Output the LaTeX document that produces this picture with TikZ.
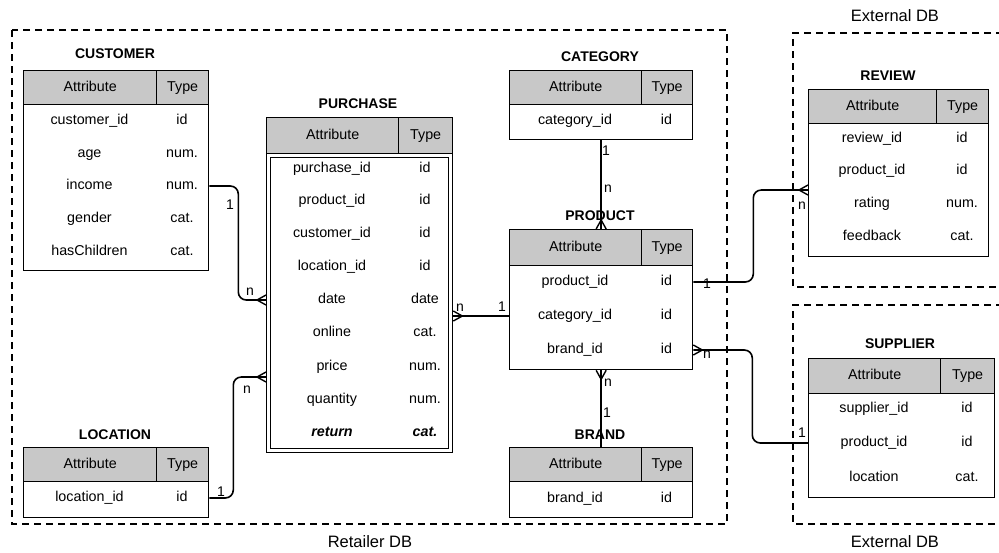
\documentclass[tikz,border=0pt]{standalone}
\usepackage{fontspec}
\setmainfont{Liberation Sans}
\definecolor{hdrgray}{RGB}{200,200,200}
\newcommand\erhead[6]{%
  \node[hdr, minimum width={(#3-#2)*1pt}, minimum height={(#6-#5)*1pt}] (#1-ha) at (#2,#5) {Attribute};
  \node[hdr, minimum width={(#4-#3)*1pt}, minimum height={(#6-#5)*1pt}] (#1-ht) at (#3,#5) {Type};}
\newcommand\erbody[5]{%
  \node[tbl, minimum width={(#3-#2)*1pt}, minimum height={(#5-#4)*1pt}] (#1) at (#2,#4) {};}
\newcommand\errow[7]{%
  \node[cell] (#1-r#2) at (#3,#5) {#6};
  \node[cell] (#1-t#2) at (#4,#5) {#7};}
\tikzset{
  tbl/.style={draw, line width=1.3pt, inner sep=0pt, anchor=north west},
  hdr/.style={tbl, fill=hdrgray, font=\fontsize{14.3}{16}\selectfont, text height=10.3pt, text depth=3pt},
  cell/.style={font=\fontsize{14.3}{16}\selectfont, inner sep=0pt, text height=10.3pt, text depth=3pt},
  ttl/.style={font=\fontsize{14}{16}\selectfont\bfseries, inner sep=0pt, text height=10pt, text depth=0pt},
  lbl/.style={font=\fontsize{14}{16}\selectfont, inner sep=0pt, text height=10pt, text depth=0pt},
  conn/.style={line width=1.6pt},
  crowl/.style={line width=1.4pt},
  region/.style={line width=2.4pt, dash pattern=on 7pt off 5pt},
  dblabel/.style={font=\fontsize{16.5}{18}\selectfont, inner sep=0pt, text height=12pt, text depth=0pt},
}
\begin{document}
\begin{tikzpicture}[x=1pt,y=-1pt]
\useasboundingbox (0,0) rectangle (999,552);

% ---- regions
\draw[region] (12,30) rectangle (727,524);
\draw[region] (1003,33) -- (793,33) -- (793,287) -- (1003,287);
\draw[region] (1003,305) -- (793,305) -- (793,524) -- (1003,524);
\node[dblabel] (retdb) at (370,541) {Retailer DB};
\node[dblabel] (extdb1) at (895,15) {External DB};
\node[dblabel] (extdb2) at (895,541) {External DB};

% ---- CUSTOMER
\node[ttl] (cust-title) at (115,53) {CUSTOMER};
\erhead{cust}{23}{156}{208}{70}{104}
\erbody{cust}{23}{208}{104}{270}
\errow{cust}{1}{89.5}{182}{121}{customer\_id}{id}
\errow{cust}{2}{89.5}{182}{154}{age}{num.}
\errow{cust}{3}{89.5}{182}{186}{income}{num.}
\errow{cust}{4}{89.5}{182}{219}{gender}{cat.}
\errow{cust}{5}{89.5}{182}{252}{hasChildren}{cat.}

% ---- LOCATION
\node[ttl] (loc-title) at (115,434) {LOCATION};
\erhead{loc}{23}{156}{208}{447}{481}
\erbody{loc}{23}{208}{481}{517}
\errow{loc}{1}{89.5}{182}{498}{location\_id}{id}

% ---- PURCHASE
\node[ttl] (purch-title) at (358,103) {PURCHASE};
\erhead{purch}{266}{398}{452}{117}{153}
\erbody{purch}{266}{452}{153}{452}
\node[tbl, minimum width=178pt, minimum height=291pt] (purch-in) at (270,157) {};
\errow{purch}{1}{332}{425}{169}{purchase\_id}{id}
\errow{purch}{2}{332}{425}{201}{product\_id}{id}
\errow{purch}{3}{332}{425}{234}{customer\_id}{id}
\errow{purch}{4}{332}{425}{267}{location\_id}{id}
\errow{purch}{5}{332}{425}{300}{date}{date}
\errow{purch}{6}{332}{425}{333}{online}{cat.}
\errow{purch}{7}{332}{425}{367}{price}{num.}
\errow{purch}{8}{332}{425}{400}{quantity}{num.}
\errow{purch}{9}{332}{425}{433}{\textbf{\textit{return}}}{\textbf{\textit{cat.}}}

% ---- CATEGORY
\node[ttl] (cat-title) at (600,56) {CATEGORY};
\erhead{cat}{509}{641}{692}{70}{104}
\erbody{cat}{509}{692}{104}{139}
\errow{cat}{1}{575}{666.5}{121}{category\_id}{id}

% ---- PRODUCT
\node[ttl] (prod-title) at (600,215) {PRODUCT};
\erhead{prod}{509}{641}{692}{229}{265}
\erbody{prod}{509}{692}{265}{369}
\errow{prod}{1}{575}{666.5}{282}{product\_id}{id}
\errow{prod}{2}{575}{666.5}{316}{category\_id}{id}
\errow{prod}{3}{575}{666.5}{350}{brand\_id}{id}

% ---- BRAND
\node[ttl] (brand-title) at (600,434) {BRAND};
\erhead{brand}{509}{641}{692}{447}{481}
\erbody{brand}{509}{692}{481}{517}
\errow{brand}{1}{575}{666.5}{499}{brand\_id}{id}

% ---- REVIEW
\node[ttl] (rev-title) at (888,75) {REVIEW};
\erhead{rev}{808}{936}{988}{89}{123}
\erbody{rev}{808}{988}{123}{256}
\errow{rev}{1}{872}{962}{139}{review\_id}{id}
\errow{rev}{2}{872}{962}{171}{product\_id}{id}
\errow{rev}{3}{872}{962}{204}{rating}{num.}
\errow{rev}{4}{872}{962}{237}{feedback}{cat.}

% ---- SUPPLIER
\node[ttl] (sup-title) at (900,343) {SUPPLIER};
\erhead{sup}{808}{940}{994}{358}{393}
\erbody{sup}{808}{994}{393}{497}
\errow{sup}{1}{874}{967}{409}{supplier\_id}{id}
\errow{sup}{2}{874}{967}{443}{product\_id}{id}
\errow{sup}{3}{874}{967}{478}{location}{cat.}

% ---- connectors
% customer - purchase
\draw[conn, rounded corners=8pt] (cust.east |- cust-r3) -- ++(29,0) |- (purch.west |- purch-r5);
\draw[crowl] (purch.west |- purch-r5) ++(0,-5) -- ++(-9,5) -- ++(9,5);
\node[lbl] (c1a) at (230,204) {1};
\node[lbl] (c1b) at (250,290) {n};

% location - purchase
\coordinate (plin) at (purch.west |- 0,377);
\draw[conn, rounded corners=8pt] (loc.east |- loc-r1) -- ++(24,0) |- (plin);
\draw[crowl] (plin) ++(0,-5) -- ++(-9,5) -- ++(9,5);
\node[lbl] (c2a) at (221,491) {1};
\node[lbl] (c2b) at (247,388) {n};

% purchase - product
\draw[conn] (purch.east |- prod-r2) -- (prod.west |- prod-r2);
\draw[crowl] (purch.east |- prod-r2) ++(0,-5) -- ++(9,5) -- ++(-9,5);
\node[lbl] (c3a) at (460,306) {n};
\node[lbl] (c3b) at (502,306) {1};

% category - product
\draw[conn] (cat.south) -- (cat.south |- prod-ha.north);
\draw[crowl] (cat.south |- prod-ha.north) ++(-5,0) -- ++(5,-9) -- ++(5,9);
\node[lbl] (c4a) at (606,150) {1};
\node[lbl] (c4b) at (608,187) {n};

% brand - product
\draw[conn] (prod.south) -- (prod.south |- brand-ha.north);
\draw[crowl] (prod.south) ++(-5,0) -- ++(5,9) -- ++(5,-9);
\node[lbl] (c5a) at (608,381) {n};
\node[lbl] (c5b) at (607,412) {1};

% product - review
\coordinate (revin) at (rev.west |- 0,190);
\draw[conn, rounded corners=8pt] (prod.east |- prod-r1) -- ++(60,0) |- (revin);
\draw[crowl] (revin) ++(0,-5) -- ++(-9,5) -- ++(9,5);
\node[lbl] (c6a) at (707,283) {1};
\node[lbl] (c6b) at (802,204) {n};

% product - supplier
\draw[conn, rounded corners=8pt] (prod.east |- prod-r3) -- ++(59,0) |- (sup.west |- sup-r2);
\draw[crowl] (prod.east |- prod-r3) ++(0,-5) -- ++(9,5) -- ++(-9,5);
\node[lbl] (c7a) at (707,353) {n};
\node[lbl] (c7b) at (802,432) {1};
\end{tikzpicture}
\end{document}
